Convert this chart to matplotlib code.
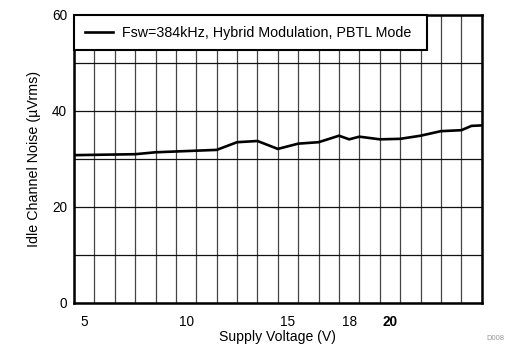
import numpy as np
import matplotlib
matplotlib.use("Agg")
import matplotlib.pyplot as plt

plt.rcParams['font.family'] = ['Liberation Sans', 'DejaVu Sans']

# Idle channel noise vs supply voltage
supply_v = [4.5, 7.5, 8.5, 11.5, 12.5, 13.5, 14.5, 15.5, 16.5, 17.5, 18.0,
            18.5, 19.5, 20.5, 21.5, 22.5, 23.5, 24.0, 24.5]
noise_uvrms = [30.8, 31.0, 31.4, 31.9, 33.5, 33.75, 32.1, 33.2, 33.5, 34.85,
               34.1, 34.65, 34.1, 34.2, 34.85, 35.8, 36.0, 36.9, 37.0]
series_label = "Fsw=384kHz, Hybrid Modulation, PBTL Mode"

x_ticks = [5, 10, 15, 18, 20]
x_tick_labels = ["5", "10", "15", "18", "20"]
y_ticks = [0, 10, 20, 30, 40, 50, 60]
y_tick_labels = ["0", "", "20", "", "40", "", "60"]

fig = plt.figure(figsize=(5.07, 3.47), dpi=100)
ax = fig.add_axes([74 / 507, 1 - 303 / 347, 407.7 / 507, 288 / 347])

ax.plot(supply_v, noise_uvrms, color="black", linewidth=1.9,
        label=series_label, zorder=3, solid_joinstyle="miter")

ax.set_xlim(4.5, 24.5)
ax.set_ylim(0, 60)

ax.set_xticks(x_ticks)
ax.set_xticklabels(x_tick_labels)
ax.set_xticks(np.arange(4.5, 24.6, 1.0), minor=True)
ax.set_yticks(y_ticks)
ax.set_yticklabels(y_tick_labels)
for lbl in ax.get_xticklabels():
    if lbl.get_text() == "20":
        lbl.set_fontweight("bold")

ax.tick_params(axis="both", which="both", length=0, labelsize=9.8)
ax.tick_params(axis="x", pad=9)
ax.tick_params(axis="y", pad=5)

ax.grid(which="minor", axis="x", color="#444444", linewidth=0.9)
ax.grid(which="major", axis="y", color="#111111", linewidth=0.9)
ax.grid(which="major", axis="x", visible=False)
ax.set_axisbelow(True)

for sp in ax.spines.values():
    sp.set_linewidth(1.8)
    sp.set_color("black")

ax.set_xlabel("Supply Voltage (V)", fontsize=10.1, labelpad=0)
ax.set_ylabel("Idle Channel Noise (\u00b5Vrms)", fontsize=10.3, labelpad=8)

leg = ax.legend(loc="upper left", bbox_to_anchor=(0, 0.881, 0.865, 0.119),
                mode="expand", borderaxespad=0, fancybox=False,
                framealpha=1, edgecolor="black", fontsize=10.25,
                handlelength=2.0, handletextpad=0.63, borderpad=0.75)
leg.get_frame().set_linewidth(1.5)
leg.set_zorder(5)

fig.text(0.995, 0.015, "D008", fontsize=5.5, color="#999999",
         ha="right", va="bottom")

fig.savefig("out.png", dpi=100)
